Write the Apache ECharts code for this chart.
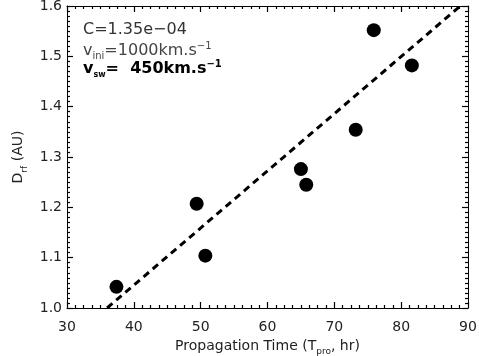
<!DOCTYPE html>
<html><head><meta charset="utf-8">
<script src="https://cdn.jsdelivr.net/npm/echarts@6/dist/echarts.min.js"></script>
<style>html,body{margin:0;padding:0;background:#fff}#c{width:479px;height:356px}</style>
</head><body><div id="c"></div>
<script>
const propTime = [37.4, 49.4, 50.7, 65.0, 65.8, 73.2, 75.9, 81.6];
const drf      = [1.042, 1.207, 1.104, 1.276, 1.245, 1.354, 1.552, 1.482];
const fitX = [36.0, 88.85];
const fitY = [1.0, 1.6];
const xTicks = [30, 40, 50, 60, 70, 80, 90];
const yTicks = [1.0, 1.1, 1.2, 1.3, 1.4, 1.5, 1.6];

const FONT = 'DejaVu Sans';
const chart = echarts.init(document.getElementById('c'));

function axis(extra, split) {
  return Object.assign({
    type: 'value', z: 10, zlevel: 0,
    axisLine: {show: true, onZero: false, lineStyle: {color: '#000', width: 1}},
    axisTick: {show: true, inside: true, length: 6, lineStyle: {color: '#000', width: 1.2}},
    minorTick: {show: true, splitNumber: split, length: 3, lineStyle: {color: '#000', width: 1.2}},
    splitLine: {show: false}, minorSplitLine: {show: false}
  }, extra);
}
const rich = {
  a: {fontFamily: FONT, fontSize: 14, color: '#222', lineHeight: 17, verticalAlign: 'bottom'},
  sub: {fontFamily: FONT, fontSize: 9, color: '#222', lineHeight: 17, verticalAlign: 'bottom', padding: [0,0,-3,0]}
};
const xr = {min: xTicks[0], max: xTicks[xTicks.length-1], interval: 10};
const yr = {min: yTicks[0], max: yTicks[yTicks.length-1], interval: 0.1};
chart.setOption({
  animation: false,
  backgroundColor: '#fff',
  grid: {left: 67, right: 11, top: 6, bottom: 48, containLabel: false, outerBoundsMode: 'none'},
  xAxis: [
    axis(Object.assign({}, xr, {
      position: 'bottom',
      axisLabel: {fontFamily: FONT, fontSize: 14, color: '#222', margin: 12},
      name: '{a|Propagation Time (T}{sub|pro}{a|, hr)}',
      nameLocation: 'middle', nameGap: 27,
      nameTextStyle: {rich: rich}
    }), 8),
    axis(Object.assign({}, xr, {position: 'top', axisLabel: {show: false}}), 8)
  ],
  yAxis: [
    axis(Object.assign({}, yr, {
      position: 'left',
      axisLabel: {fontFamily: FONT, fontSize: 14, color: '#222', margin: 5, formatter: v => v.toFixed(1)},
      name: '{a|D}{sub|rf}{a| (AU)}',
      nameLocation: 'middle', nameGap: 35, nameRotate: 90,
      nameTextStyle: {rich: rich}
    }), 10),
    axis(Object.assign({}, yr, {position: 'right', axisLabel: {show: false}}), 10)
  ],
  series: [
    {type: 'line', xAxisIndex: 0, yAxisIndex: 0, data: fitX.map((x,i)=>[x, fitY[i]]), symbol: 'none',
     lineStyle: {color: '#000', width: 3, type: [7,5]}, z: 2},
    {type: 'scatter', xAxisIndex: 0, yAxisIndex: 0, data: propTime.map((x,i)=>[x, drf[i]]), symbol: 'circle', symbolSize: 14,
     itemStyle: {color: '#000', opacity: 1}, z: 3}
  ],
  graphic: [
    {type: 'text', left: 83, top: 22, style: {text: 'C=1.35e\u221204', font: '16px ' + FONT, fill: '#333'}},
    {type: 'text', left: 83, top: 39, style: {
      text: '{v|v}{s|ini}{v|=1000km.s}{p|\u22121}',
      rich: {
        v: {font: '16px ' + FONT, fill: '#444', lineHeight: 20, verticalAlign: 'bottom'},
        s: {font: '10px ' + FONT, fill: '#444', lineHeight: 20, verticalAlign: 'bottom', padding: [0,0,-2,0]},
        p: {font: '10px ' + FONT, fill: '#444', lineHeight: 20, verticalAlign: 'top', padding: [2,0,0,0]}
      }}},
    {type: 'text', left: 83, top: 57, style: {
      text: '{v|v}{s|sw}{v|=  450km.s}{p|\u22121}',
      rich: {
        v: {font: 'bold 16px ' + FONT, fill: '#000', lineHeight: 20, verticalAlign: 'bottom'},
        s: {font: 'bold 8px ' + FONT, fill: '#000', lineHeight: 20, verticalAlign: 'bottom', padding: [0,0,-2,0]},
        p: {font: 'bold 10px ' + FONT, fill: '#000', lineHeight: 20, verticalAlign: 'top', padding: [2,0,0,0]}
      }}}
  ]
});
</script></body></html>
